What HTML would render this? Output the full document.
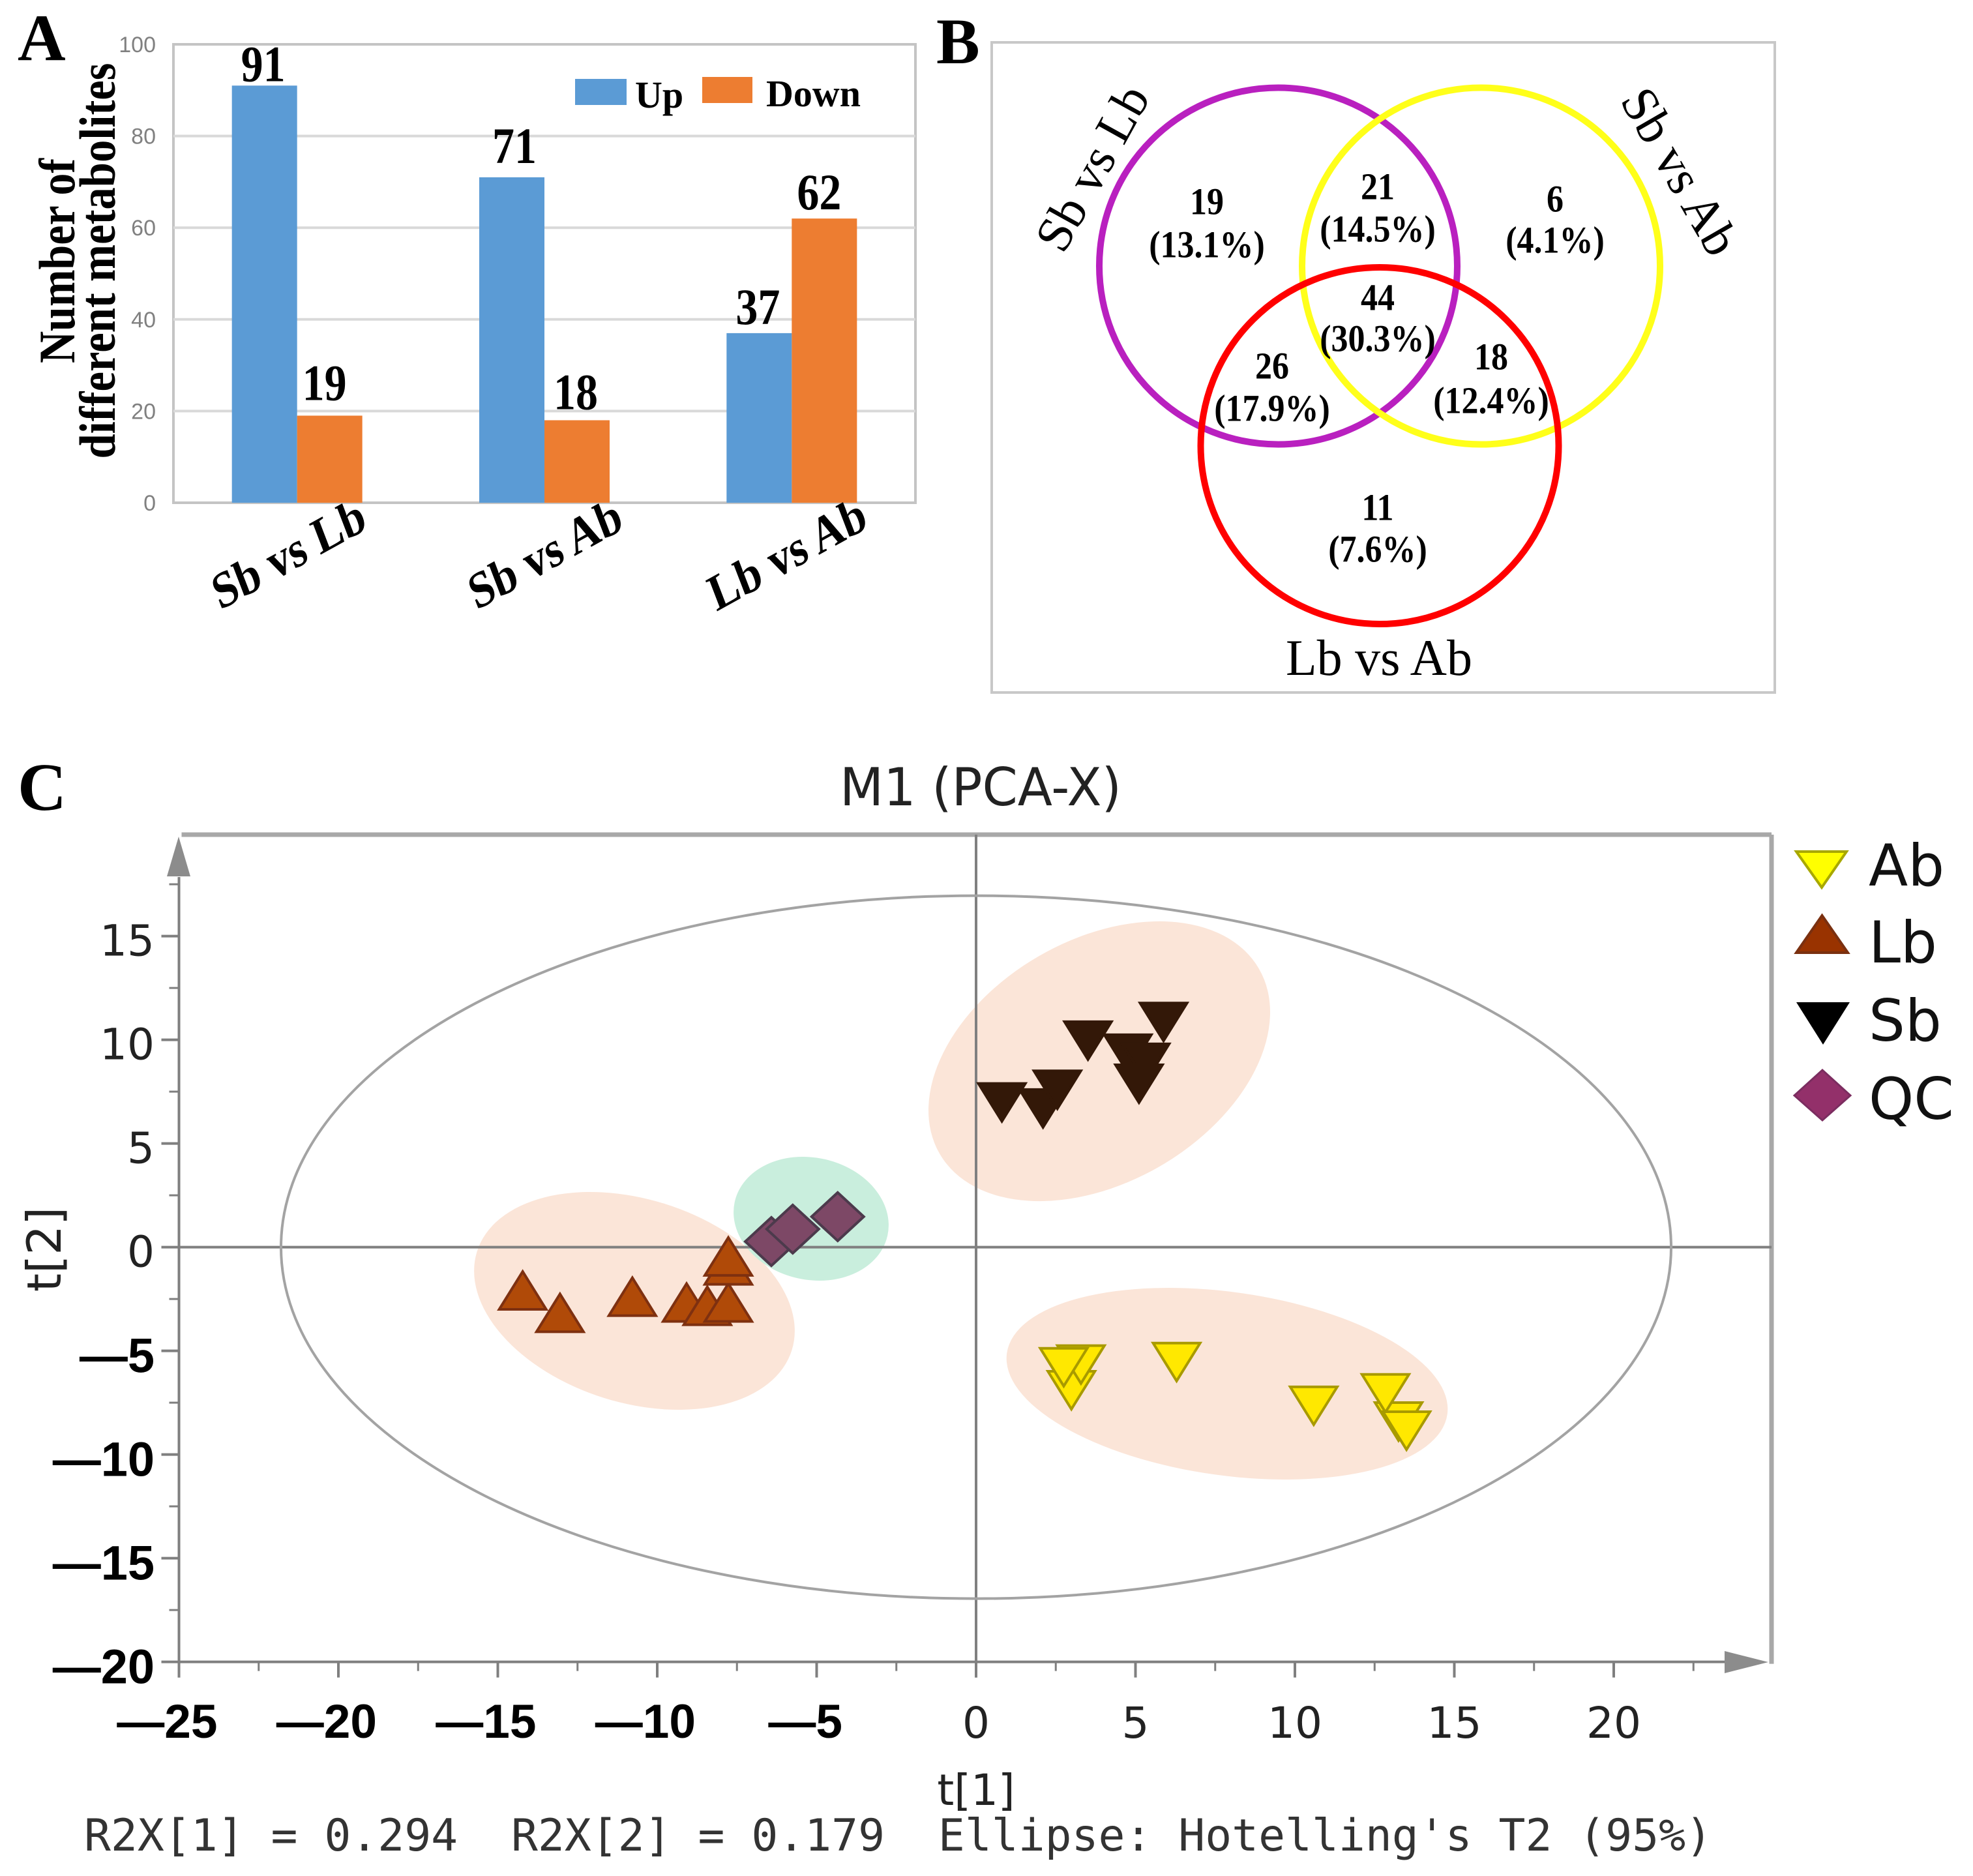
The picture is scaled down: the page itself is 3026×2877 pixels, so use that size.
<!DOCTYPE html>
<html lang="en">
<head>
<meta charset="utf-8">
<title>Differential metabolites, Venn diagram and PCA score plot</title>
<style>
html,body{margin:0;padding:0;background:#fff;}
svg{display:block;}
text{white-space:pre;}
.serif{font-family:"Liberation Serif",serif;}
.serif-bold{font-family:"Liberation Serif",serif;font-weight:bold;}
.sans{font-family:"DejaVu Sans",sans-serif;}
.venn-num{font-family:"Liberation Serif",serif;font-weight:bold;font-size:52px;text-anchor:middle;fill:#000;transform-box:fill-box;transform-origin:center bottom;transform:scaleY(1.12);}
</style>
</head>
<body>
<svg id="figure" xmlns="http://www.w3.org/2000/svg" width="3026" height="2877" viewBox="0 0 3026 2877">
  <rect x="0" y="0" width="3026" height="2877" fill="#ffffff"/>

  <text class="serif-bold" x="27" y="92" font-size="102">A</text>
  <text class="serif-bold" x="1436" y="97" font-size="100">B</text>
  <text class="serif-bold" x="27" y="1242" font-size="104">C</text>

  <!-- Panel A -->
  <g id="bar-chart"></g>
  <g>
    <rect x="882" y="121" width="79" height="40" fill="#5b9bd5"/>
    <text class="serif-bold" x="974" y="165" font-size="58">Up</text>
    <rect x="1077" y="118" width="77" height="40" fill="#ed7d31"/>
    <text class="serif-bold" x="1175" y="163" font-size="58">Down</text>
  </g>
  <text class="serif-bold" font-size="68" text-anchor="middle" transform="translate(114 400) rotate(-90) scale(1 1.15)">Number of</text>
  <text class="serif-bold" font-size="68" text-anchor="middle" transform="translate(176 400) rotate(-90) scale(1.01 1.15)">different metabolites</text>

  <!-- Panel B -->
  <g>
    <rect x="1521" y="65" width="1201" height="997" fill="none" stroke="#c8c8c8" stroke-width="4"/>
    <ellipse cx="1960.5" cy="408" rx="274.5" ry="273.5" fill="none" stroke="#b920bf" stroke-width="10"/>
    <ellipse cx="2271.5" cy="408" rx="274.5" ry="273.5" fill="none" stroke="#ffff1a" stroke-width="10"/>
    <ellipse cx="2116" cy="683.5" rx="274.5" ry="273.5" fill="none" stroke="#ff0000" stroke-width="10"/>
    <text class="serif" font-size="78" text-anchor="middle" transform="translate(1698 270) rotate(-61)">Sb vs Lb</text>
    <text class="serif" font-size="78" text-anchor="middle" transform="translate(2554 276) rotate(60)">Sb vs Ab</text>
    <text class="serif" font-size="78" text-anchor="middle" x="2115" y="1035">Lb vs Ab</text>

    <text class="venn-num" x="1851" y="330">19</text>
    <text class="venn-num" x="1851" y="396">(13.1%)</text>
    <text class="venn-num" x="2113" y="307">21</text>
    <text class="venn-num" x="2113" y="372">(14.5%)</text>
    <text class="venn-num" x="2385" y="326">6</text>
    <text class="venn-num" x="2385" y="389">(4.1%)</text>
    <text class="venn-num" x="2113" y="477">44</text>
    <text class="venn-num" x="2113" y="540">(30.3%)</text>
    <text class="venn-num" x="1951" y="582">26</text>
    <text class="venn-num" x="1951" y="647">(17.9%)</text>
    <text class="venn-num" x="2287" y="568">18</text>
    <text class="venn-num" x="2287" y="635">(12.4%)</text>
    <text class="venn-num" x="2113" y="799">11</text>
    <text class="venn-num" x="2113" y="863">(7.6%)</text>
  </g>

  <!-- Panel C -->
  <text class="sans" x="1288" y="1235" font-size="80" fill="#222" textLength="432" lengthAdjust="spacingAndGlyphs">M1 (PCA-X)</text>
  <g>
    <ellipse cx="973" cy="1995" rx="253" ry="156" transform="rotate(17.4 973 1995)" fill="#fbe5d8"/>
    <ellipse cx="1244" cy="1869" rx="120" ry="93.6" transform="rotate(12.4 1244 1869)" fill="#c9eedd"/>
    <ellipse cx="1686" cy="1627.5" rx="283" ry="186" transform="rotate(-30.1 1686 1627.5)" fill="#fbe5d8"/>
    <ellipse cx="1882" cy="2122" rx="341" ry="140.6" transform="rotate(7.9 1882 2122)" fill="#fbe5d8"/>
  </g>
  <g id="pca-plot"></g>
  <text class="sans" x="1497" y="2768" font-size="66" text-anchor="middle" fill="#222">t[1]</text>
  <text class="sans" font-size="72" text-anchor="middle" fill="#222" transform="translate(93 1916) rotate(-90)">t[2]</text>
  <text x="129" y="2838" font-family="'DejaVu Sans Mono',monospace" font-size="68" fill="#333" textLength="2497" lengthAdjust="spacingAndGlyphs">R2X[1] = 0.294  R2X[2] = 0.179  Ellipse: Hotelling's T2 (95%)</text>

  <g>
    <polygon points="2755,1306 2832,1306 2794,1361" fill="#ffff00" stroke="#a8a800" stroke-width="4"/>
    <text class="sans" x="2866" y="1358" font-size="88" fill="#111">Ab</text>
    <polygon points="2755,1461 2834,1461 2794.5,1404" fill="#993300" stroke="#7a3010" stroke-width="4"/>
    <text class="sans" x="2866" y="1476" font-size="88" fill="#111">Lb</text>
    <polygon points="2755,1537 2837,1537 2796,1602" fill="#000000"/>
    <text class="sans" x="2866" y="1596" font-size="88" fill="#111">Sb</text>
    <polygon points="2752,1680 2795,1641 2838,1680 2795,1718" fill="#93306a" stroke="#7b2d60" stroke-width="3"/>
    <text class="sans" x="2866" y="1716" font-size="88" fill="#111">QC</text>
  </g>
</svg>

<script>
// Panel A data
const barCategories = ['Sb vs Lb', 'Sb vs Ab', 'Lb vs Ab'];
const upValues = [91, 71, 37];
const downValues = [19, 18, 62];
const barTickLabels = [0, 20, 40, 60, 80, 100];

// Panel C data (t[1], t[2] scores)
const abT1 = [2.99, 3.29, 2.75, 6.29, 10.59, 13.25, 12.84, 13.50];
const abT2 = [-6.90, -5.66, -5.79, -5.54, -7.65, -8.41, -7.05, -8.85];
const lbT1 = [-14.22, -13.05, -10.78, -9.08, -8.43, -7.77, -7.77, -7.77];
const lbT2 = [-2.09, -3.17, -2.39, -2.67, -2.83, -2.67, -0.88, -0.45];
const sbT1 = [0.81, 2.10, 2.55, 3.51, 4.76, 5.32, 5.11, 5.88];
const sbT2 = [6.98, 6.69, 7.59, 9.96, 9.33, 8.89, 7.88, 10.86];
const qcT1 = [-6.42, -5.75, -4.34];
const qcT2 = [0.27, 0.87, 1.47];
const pcaXTicks = [-25, -20, -15, -10, -5, 0, 5, 10, 15, 20];
const pcaYTicks = [-20, -15, -10, -5, 0, 5, 10, 15];
const pcaXMinorTicks = [-22.5, -17.5, -12.5, -7.5, -2.5, 2.5, 7.5, 12.5, 17.5, 22.5];
const pcaYMinorTicks = [-17.5, -12.5, -7.5, -2.5, 2.5, 7.5, 12.5, 17.5];
const hotellingRadii = [21.8, 16.95];

const NS = 'http://www.w3.org/2000/svg';
function mk(parent, tag, attrs, text) {
  const node = document.createElementNS(NS, tag);
  for (const key in attrs) node.setAttribute(key, attrs[key]);
  if (text !== undefined) node.textContent = text;
  parent.appendChild(node);
  return node;
}

// ---------- Panel A ----------
(function () {
  const g = document.getElementById('bar-chart');
  const left = 266, right = 1404, top = 68, bottom = 771, barW = 100;
  const yScale = v => bottom - (v / 100) * (bottom - top);
  const band = i => left + (i + 0.5) * (right - left) / barCategories.length;
  // label placement nudges, relative to each bar's top-centre
  const upLift = [7, 22, 14], downLift = [24, 17, 14];
  const upShift = [-2, 4, -2], downShift = [-8, -2, -8];
  const catShift = [-4, 10, 2];
  let el;

  el = mk(g, 'rect', { x: left, y: top, width: right - left, height: bottom - top, fill: 'none', stroke: '#c4c4c4', 'stroke-width': 4 });
  
  

  barTickLabels.forEach(t => {
    if (t > 0 && t < 100) {
      const grid = mk(g, 'line', { x1: left, x2: right, y1: yScale(t), y2: yScale(t), stroke: '#d9d9d9', 'stroke-width': 4 });
      
      
    }
    const lab = mk(g, 'text', { x: 239, y: yScale(t) + 12, 'text-anchor': 'end', 'font-size': 34, fill: '#808080', 'font-family': '"Liberation Sans",sans-serif' }, String(t));
    
    
  });

  barCategories.forEach((cat, i) => {
    const c = band(i);
    const up = mk(g, 'rect', { x: c - barW, y: yScale(upValues[i]), width: barW, height: bottom - yScale(upValues[i]), fill: '#5b9bd5' });
    
    
    const down = mk(g, 'rect', { x: c, y: yScale(downValues[i]), width: barW, height: bottom - yScale(downValues[i]), fill: '#ed7d31' });
    
    
    const upLab = mk(g, 'text', { 'text-anchor': 'middle', 'font-size': 68, class: 'serif-bold', transform: 'translate(' + (c - barW / 2 + upShift[i]) + ' ' + (yScale(upValues[i]) - upLift[i]) + ') scale(1 1.16)' }, String(upValues[i]));
    
    
    const downLab = mk(g, 'text', { 'text-anchor': 'middle', 'font-size': 68, class: 'serif-bold', transform: 'translate(' + (c + barW / 2 + downShift[i]) + ' ' + (yScale(downValues[i]) - downLift[i]) + ') scale(1 1.16)' }, String(downValues[i]));
    
    
    const catLab = mk(g, 'text', { 'text-anchor': 'middle', 'font-size': 68, class: 'serif-bold', transform: 'translate(' + (c + catShift[i]) + ' 873) rotate(-29) skewX(-8) scale(1.03 1.12)' }, cat);
    
    
  });
})();

// ---------- Panel C ----------
(function () {
  const g = document.getElementById('pca-plot');
  const x0 = 1497, xUnit = 48.9, y0 = 1912.6, yUnit = 31.8;
  const xScale = v => x0 + v * xUnit;
  const yScale = v => y0 - v * yUnit;
  const axisLeft = xScale(-25), axisBottom = yScale(-20), frameTop = 1280, frameRight = 2717;
  let el;

  el = mk(g, 'line', { x1: axisLeft + 4, x2: frameRight, y1: frameTop, y2: frameTop, stroke: '#a8a8a8', 'stroke-width': 7 });
  
  
  el = mk(g, 'line', { x1: frameRight, x2: frameRight, y1: frameTop, y2: axisBottom + 3, stroke: '#a8a8a8', 'stroke-width': 7 });
  
  
  el = mk(g, 'line', { x1: axisLeft, x2: 2650, y1: axisBottom, y2: axisBottom, stroke: '#7f7f7f', 'stroke-width': 4 });
  
  
  el = mk(g, 'line', { x1: axisLeft, x2: axisLeft, y1: 1345, y2: axisBottom + 24, stroke: '#7f7f7f', 'stroke-width': 4 });
  
  
  el = mk(g, 'polygon', { points: '256,1344 292,1344 274,1283', fill: '#8c8c8c' });
  
  
  el = mk(g, 'polygon', { points: '2645,2532 2645,2566 2712,2549', fill: '#8c8c8c' });
  
  
  el = mk(g, 'line', { x1: axisLeft, x2: frameRight, y1: yScale(0), y2: yScale(0), stroke: '#808080', 'stroke-width': 4 });
  
  
  el = mk(g, 'line', { x1: xScale(0), x2: xScale(0), y1: frameTop, y2: axisBottom + 24, stroke: '#808080', 'stroke-width': 4 });
  
  

  el = mk(g, 'ellipse', { cx: xScale(0), cy: yScale(0), rx: hotellingRadii[0] * xUnit, ry: hotellingRadii[1] * yUnit, fill: 'none', stroke: '#a3a3a3', 'stroke-width': 4 });
  
  

  pcaXMinorTicks.forEach(t => {
    const tick = mk(g, 'line', { x1: xScale(t), x2: xScale(t), y1: axisBottom, y2: axisBottom + 14, stroke: '#7f7f7f', 'stroke-width': 3 });
    
    
  });
  pcaYMinorTicks.forEach(t => {
    const tick = mk(g, 'line', { x1: axisLeft - 15, x2: axisLeft, y1: yScale(t), y2: yScale(t), stroke: '#7f7f7f', 'stroke-width': 3 });
    
    
  });

  pcaXTicks.forEach(t => {
    const tick = mk(g, 'line', { x1: xScale(t), x2: xScale(t), y1: axisBottom, y2: axisBottom + 24, stroke: '#7f7f7f', 'stroke-width': 4 });
    
    
    let lab;
    if (t < 0) {
      const digits = String(-t);
      lab = mk(g, 'text', { x: xScale(t) + 20 + digits.length * 19.5, y: 2665, 'text-anchor': 'end', 'font-size': 73, 'font-weight': 'bold', 'font-family': '"Liberation Sans",sans-serif', fill: '#000' }, '\u2014' + digits);
    } else {
      lab = mk(g, 'text', { x: xScale(t), y: 2665, 'text-anchor': 'middle', 'font-size': 66, class: 'sans', fill: '#222' }, String(t));
    }
    
    
  });

  pcaYTicks.forEach(t => {
    const tick = mk(g, 'line', { x1: axisLeft - 27, x2: axisLeft, y1: yScale(t), y2: yScale(t), stroke: '#7f7f7f', 'stroke-width': 4 });
    
    
    let lab;
    if (t < 0) {
      lab = mk(g, 'text', { x: 237, y: yScale(t) + 33, 'text-anchor': 'end', 'font-size': 74, 'font-weight': 'bold', 'font-family': '"Liberation Sans",sans-serif', fill: '#000' }, '\u2014' + String(-t));
    } else {
      lab = mk(g, 'text', { x: 237, y: yScale(t) + 30, 'text-anchor': 'end', 'font-size': 66, class: 'sans', fill: '#222' }, String(t));
    }
    
    
  });

  function triangle(cx, cy, up) {
    const w = 36, h = 29;
    const dir = up ? 1 : -1;
    return [[cx - w, cy + dir * h], [cx + w, cy + dir * h], [cx, cy - dir * h]].map(p => p.join(',')).join(' ');
  }
  function diamond(cx, cy) {
    const w = 40, h = 37;
    return [[cx - w, cy], [cx, cy - h], [cx + w, cy], [cx, cy + h]].map(p => p.join(',')).join(' ');
  }

  abT1.forEach((v, i) => {
    const p = mk(g, 'polygon', { points: triangle(xScale(v), yScale(abT2[i]), false), fill: '#ffe800', stroke: '#a89a00', 'stroke-width': 4 });
    
    
  });
  sbT1.forEach((v, i) => {
    const p = mk(g, 'polygon', { points: triangle(xScale(v), yScale(sbT2[i]), false), fill: '#331808', stroke: '#331808', 'stroke-width': 4 });
    
    
  });
  qcT1.forEach((v, i) => {
    const p = mk(g, 'polygon', { points: diamond(xScale(v), yScale(qcT2[i])), fill: '#7d4866', stroke: '#4c3a4c', 'stroke-width': 4 });
    
    
  });
  lbT1.forEach((v, i) => {
    const p = mk(g, 'polygon', { points: triangle(xScale(v), yScale(lbT2[i]), true), fill: '#b04a08', stroke: '#7e3010', 'stroke-width': 4 });
    
    
  });
})();
</script>
</body>
</html>
